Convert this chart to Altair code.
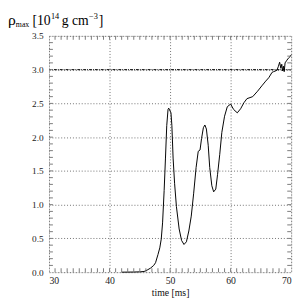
import altair as alt
import pandas as pd

# time [ms] and rho_max [1e14 g/cm^3]
t = [42.0, 44.0, 45.0, 45.7, 46.2, 46.77, 47.3, 47.6, 48.0, 48.3, 48.54, 48.76, 49.02, 49.24,
     49.45, 49.66, 49.77, 50.15, 50.3, 50.5, 50.75, 51.05, 51.5, 51.9, 52.3, 52.7, 53.1,
     53.5, 53.9, 54.3, 54.65, 54.95, 55.2, 55.5, 55.75, 56.0, 56.3, 56.55, 56.9, 57.2,
     57.55, 57.85, 58.2, 58.55, 59.0, 59.45, 60.0, 60.5, 61.1, 61.65, 62.2, 62.7, 63.65,
     64.45, 65.25, 65.8, 66.3, 66.85, 67.1, 67.4, 67.65, 67.9, 68.1, 68.3, 68.45, 68.6,
     68.75, 68.85, 69.0, 69.3, 69.55, 69.8, 70.0]
rho = [0.0, 0.002, 0.005, 0.01, 0.03, 0.06, 0.1, 0.14, 0.26, 0.36, 0.49, 0.73, 1.21, 1.69,
       2.17, 2.41, 2.43, 2.36, 2.17, 1.69, 1.31, 0.97, 0.64, 0.47, 0.41, 0.45, 0.61,
       0.83, 1.17, 1.55, 1.79, 1.81, 1.98, 2.14, 2.18, 2.12, 1.88, 1.55, 1.28, 1.19,
       1.23, 1.45, 1.74, 2.07, 2.31, 2.45, 2.49, 2.41, 2.36, 2.42, 2.51, 2.57, 2.6,
       2.68, 2.77, 2.83, 2.88, 2.96, 2.97, 2.98, 2.99, 3.05, 3.11, 3.02, 3.08, 2.98,
       3.05, 2.97, 3.1, 3.14, 3.17, 3.19, 3.22]

x_major = [30, 40, 50, 60, 70]
y_major = [0.0, 0.5, 1.0, 1.5, 2.0, 2.5, 3.0, 3.5]
x_minor = list(range(31, 70))
y_minor = [round(0.1 * i, 1) for i in range(1, 35)]
ref_level = [3.0]

W, H = 248, 242
FONT = "Liberation Serif"
FRAME = "#7a7a7a"
GRID = "#707070"

df = pd.DataFrame({"t": t, "rho": rho})
xs = alt.Scale(domain=[30, 70], nice=False, zero=False)
ys = alt.Scale(domain=[0, 3.5], nice=False)

x_axis = alt.Axis(
    values=x_major, format="d", grid=True, gridDash=[1, 2], gridColor=GRID,
    ticks=False, domain=False, labelFont=FONT, labelFontSize=10, labelColor="#222",
    labelPadding=4, title="time [ms]", titleFont=FONT, titleFontSize=10,
    titleFontWeight="normal", titleColor="#111", titlePadding=2)
y_axis = alt.Axis(
    values=y_major, format=".1f", grid=True, gridDash=[1, 2], gridColor=GRID,
    ticks=False, domain=False, labelFont=FONT, labelFontSize=9.5, labelColor="#222",
    labelPadding=6, title=None)

curve = alt.Chart(df).mark_line(color="black", strokeWidth=1).encode(
    x=alt.X("t:Q", scale=xs, axis=x_axis),
    y=alt.Y("rho:Q", scale=ys, axis=y_axis),
)

ref = alt.Chart(pd.DataFrame({"y": ref_level})).mark_rule(
    color="black", strokeWidth=1, strokeDash=[3, 1, 1, 1]
).encode(y=alt.Y("y:Q", scale=ys, axis=y_axis))

xm = pd.DataFrame({"x": x_minor})
ym = pd.DataFrame({"y": y_minor})
tick_len = 4
bot = alt.Chart(xm).mark_rule(color=FRAME).encode(
    x=alt.X("x:Q", scale=xs, axis=x_axis), y=alt.value(H), y2=alt.value(H - tick_len))
top = alt.Chart(xm).mark_rule(color=FRAME).encode(
    x=alt.X("x:Q", scale=xs, axis=x_axis), y=alt.value(0), y2=alt.value(tick_len))
left = alt.Chart(ym).mark_rule(color=FRAME).encode(
    y=alt.Y("y:Q", scale=ys, axis=y_axis), x=alt.value(0), x2=alt.value(tick_len))
right = alt.Chart(ym).mark_rule(color=FRAME).encode(
    y=alt.Y("y:Q", scale=ys, axis=y_axis), x=alt.value(W), x2=alt.value(W - tick_len))

# header label pieces: (text, x offset, y offset, size)
pieces = [("ρ", -42, -11, 16), ("max", -34, -9, 8), ("[10", -17, -11, 14),
          ("14", 2, -17, 8.5), ("g cm", 13, -11, 14), ("−3", 41, -17, 8.5), ("]", 51, -11, 14)]
one = pd.DataFrame({"a": [0]})
texts = [alt.Chart(one).mark_text(text=s, align="left", baseline="alphabetic",
                                  font=FONT, fontSize=fs, color="black")
         .encode(x=alt.value(px), y=alt.value(py)) for s, px, py, fs in pieces]

chart = alt.layer(curve, ref, bot, top, left, right, *texts).properties(
    width=W, height=H, autosize=alt.AutoSizeParams(type="none"),
    padding={"left": 42, "top": 25, "right": 6, "bottom": 27},
).configure_view(stroke=FRAME, strokeWidth=1).configure(background="white")

chart.save("out.html", embed_options={"renderer": "svg", "actions": False})
